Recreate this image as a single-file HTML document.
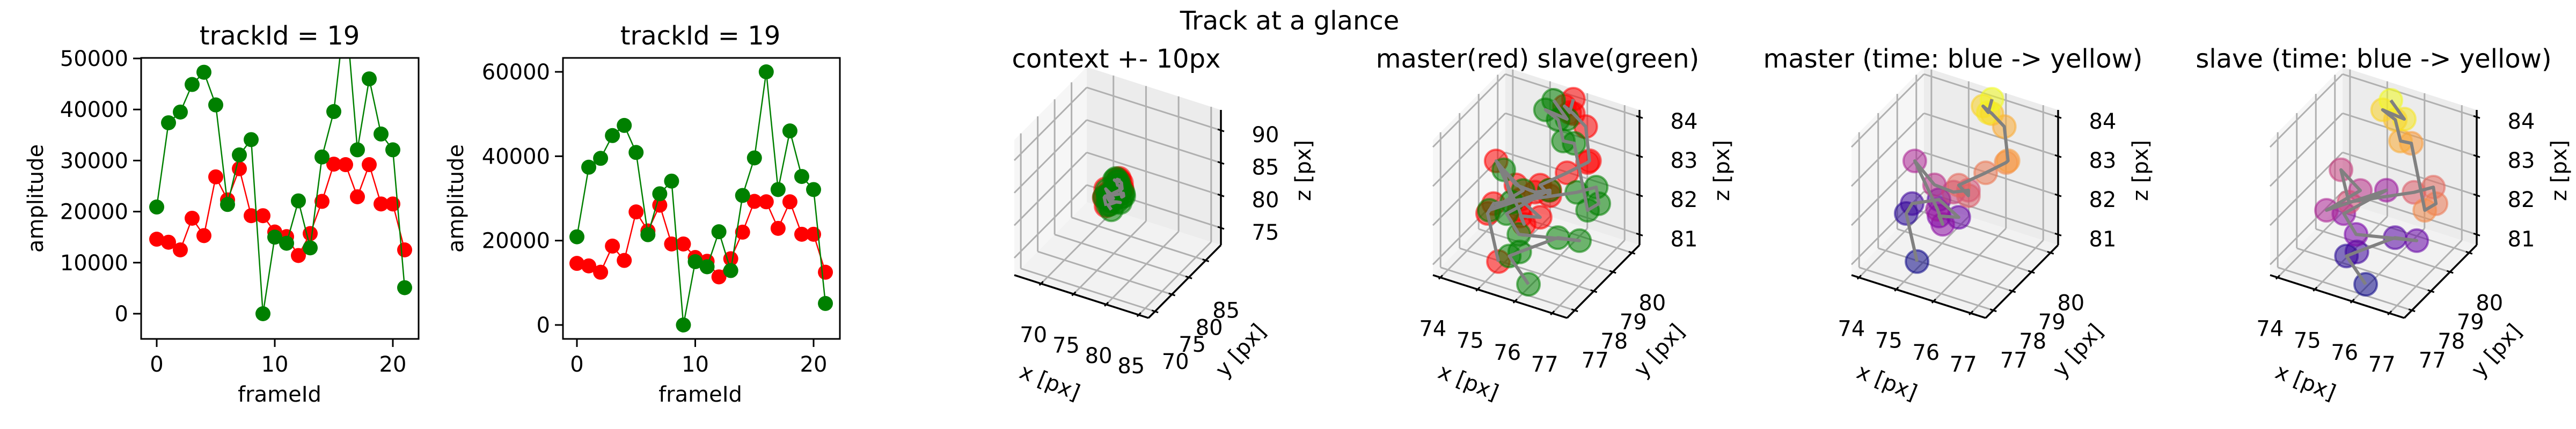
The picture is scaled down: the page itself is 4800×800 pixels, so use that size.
<!DOCTYPE html>
<html><head><meta charset="utf-8"><style>
html,body{margin:0;padding:0;background:#fff;}
svg{display:block;font-family:"DejaVu Sans","Liberation Sans",sans-serif;}
</style></head><body>
<svg id="fig" width="4800" height="800" viewBox="0 0 4800 800" xmlns="http://www.w3.org/2000/svg">
<rect width="4800" height="800" fill="#fff"/>
<text x="2403" y="55" font-size="48" text-anchor="middle">Track at a glance</text>
<g id="g2d"></g>
<g id="g3d"></g>
</svg>
<script>
// ---- 2D amplitude data ----
const frames = [0,1,2,3,4,5,6,7,8,9,10,11,12,13,14,15,16,17,18,19,20,21];
const slaveAmp = [20900,37400,39500,44900,47300,40900,21400,31100,34100,0,15000,13800,22100,12900,30700,39600,60000,32100,46000,35200,32100,5100];
const masterAmp = [14600,14000,12500,18700,15300,26800,22300,28400,19200,19200,16000,15100,11400,15700,22000,29300,29200,22900,29200,21500,21500,12500];
const xTicks2d = [0,10,20];
const yTicksA = [0,10000,20000,30000,40000,50000];
const yTicksB = [0,20000,40000,60000];

// ---- 3D positions (x,y,z in px) ----
const masterX = [75.17,74.49,74.65,75.37,75.90,75.37,75.47,75.33,74.72,75.25,75.76,76.16,76.16,75.90,76.04,76.59,76.64,76.15,75.82,75.58,75.72,75.82];
const masterY = [77.36,78.12,78.12,78.12,78.12,78.12,78.12,78.12,78.12,78.12,78.12,78.12,78.12,78.12,79.26,79.26,79.26,80.02,80.02,80.02,80.02,80.02];
const masterZ = [81.12,81.77,82.07,82.39,82.10,81.97,81.79,82.13,83.18,82.73,82.70,82.87,82.73,82.92,82.72,83.15,83.21,83.56,83.79,83.91,83.79,84.16];
const slaveX = [76.17,75.46,75.74,76.57,77.15,75.33,75.00,75.95,74.73,75.25,74.73,74.94,76.30,76.82,76.89,76.59,75.84,75.55,75.41,75.07,75.65,75.29];
const slaveY = [76.98,77.36,77.36,77.74,77.74,78.12,78.12,78.50,77.74,78.50,78.50,78.50,79.26,79.26,79.26,79.26,80.02,80.02,80.02,80.02,80.02,80.02];
const slaveZ = [81.03,81.35,81.54,81.97,82.07,81.49,81.92,82.62,82.11,82.40,82.77,82.01,82.30,82.59,82.19,81.93,83.04,83.01,83.51,83.66,83.60,83.97];
const ctxXTicks = [70,75,80,85], ctxYTicks = [70,75,80,85], ctxZTicks = [75,80,85,90];
const zmXTicks = [74,75,76,77], zmYTicks = [77,78,79,80], zmZTicks = [81,82,83,84];

const NS = "http://www.w3.org/2000/svg";
function mk(tag, attrs, parent){ const e=document.createElementNS(NS,tag); for(const k in attrs) e.setAttribute(k,attrs[k]); parent.appendChild(e); return e; }

// ===== 2D panels =====
const g2 = document.getElementById('g2d');
const panels2d = [
  {L:263,R:780,T:108,B:632, x0:292, xs:22, y0:585, ys:95.2/10000, ticks:yTicksA, tx:521, lx:67, name:'amplitude-chart-1'},
  {L:1049,R:1565,T:108,B:632, x0:1075, xs:22.05, y0:606, ys:472/60000, ticks:yTicksB, tx:1305, lx:850, name:'amplitude-chart-2'}
];
panels2d.forEach((p,pi)=>{
  const g = mk('g',{},g2);
  
  
  const sx = v=>p.x0+p.xs*v, sy = v=>p.y0-p.ys*v;
  const cid='clip'+pi;
  const cp = mk('clipPath',{id:cid},g); mk('rect',{x:p.L,y:p.T,width:p.R-p.L,height:p.B-p.T},cp);
  const data = mk('g',{'clip-path':'url(#'+cid+')'},g);
  [[masterAmp,'#ff0000','master'],[slaveAmp,'#008000','slave']].forEach(([arr,col,nm])=>{
    const pl = mk('polyline',{points:arr.map((v,i)=>sx(frames[i])+','+sy(v)).join(' '),fill:'none',stroke:col,'stroke-width':2.5},data);
    
    
    arr.forEach((v,i)=>{
      const c = mk('circle',{cx:sx(frames[i]),cy:sy(v),r:14,fill:col},data);
      
      
    });
  });
  mk('rect',{x:p.L,y:p.T,width:p.R-p.L,height:p.B-p.T,fill:'none',stroke:'#000','stroke-width':3},g);
  xTicks2d.forEach(t=>{
    mk('line',{x1:sx(t),x2:sx(t),y1:p.B,y2:p.B+15,stroke:'#000','stroke-width':3},g);
    const tx = mk('text',{x:sx(t),y:693,'font-size':40,'text-anchor':'middle'},g); tx.textContent=t;
    
    
  });
  p.ticks.forEach(t=>{
    mk('line',{x1:p.L-15,x2:p.L,y1:sy(t),y2:sy(t),stroke:'#000','stroke-width':3},g);
    const tx = mk('text',{x:p.L-24,y:sy(t)+14,'font-size':40,'text-anchor':'end'},g); tx.textContent=t;
    
    
  });
  const ti = mk('text',{x:p.tx,y:83,'font-size':48,'text-anchor':'middle'},g); ti.textContent='trackId = 19';
  
  
  const xl = mk('text',{x:p.tx,y:749,'font-size':40,'text-anchor':'middle'},g); xl.textContent='frameId';
  
  
  const yl = mk('text',{x:p.lx,y:370,'font-size':40,'text-anchor':'middle',transform:'rotate(-90 '+p.lx+' 370)','dominant-baseline':'central'},g); yl.textContent='amplitude';
  
  
});

// ===== 3D panels =====
const g3 = document.getElementById('g3d');
const plasmaStops = ['#0d0887','#4c02a1','#7e03a8','#a92395','#cc4778','#e56b5d','#f89540','#fdc527','#f0f921'];
function hex(h){return [parseInt(h.substr(1,2),16),parseInt(h.substr(3,2),16),parseInt(h.substr(5,2),16)];}
function plasma(t){
  const s=t*(plasmaStops.length-1); const i=Math.min(Math.floor(s),plasmaStops.length-2); const f=s-i;
  const a=hex(plasmaStops[i]), b=hex(plasmaStops[i+1]);
  return 'rgb('+a.map((v,k)=>Math.round(v+(b[k]-v)*f)).join(',')+')';
}
const panels3d = [
  {title:'context +- 10px', tx:2080, xr:[65.9,86.5], yr:[68.07,89.5], zr:[72.36,93.14], xt:ctxXTicks, yt:ctxYTicks, zt:ctxZTicks, mode:'rg', name:'context-3d'},
  {title:'master(red) slave(green)', tx:2865, xr:[73.8,77.4], yr:[76.6,80.4], zr:[80.73,84.18], xt:zmXTicks, yt:zmYTicks, zt:zmZTicks, mode:'rg', name:'master-slave-3d'},
  {title:'master (time: blue -> yellow)', tx:3639, xr:[73.8,77.4], yr:[76.6,80.4], zr:[80.73,84.18], xt:zmXTicks, yt:zmYTicks, zt:zmZTicks, mode:'m', name:'master-time-3d'},
  {title:'slave (time: blue -> yellow)', tx:4423, xr:[73.8,77.4], yr:[76.6,80.4], zr:[80.73,84.18], xt:zmXTicks, yt:zmYTicks, zt:zmZTicks, mode:'s', name:'slave-time-3d'}
];
panels3d.forEach((p,k)=>{
  const g = mk('g',{},g3);
  
  
  const Ax = 1890+780*k, Ay = 513;
  const P = (u,v,w)=>[Ax+250*u+135*v, Ay+80*u-136*v-252*w];
  const U = x=>(x-p.xr[0])/(p.xr[1]-p.xr[0]), V = y=>(y-p.yr[0])/(p.yr[1]-p.yr[0]), W = z=>(z-p.zr[0])/(p.zr[1]-p.zr[0]);
  const poly = (pts,fill)=>mk('polygon',{points:pts.map(q=>P(...q).join(',')).join(' '),fill:fill},g);
  poly([[0,0,0],[1,0,0],[1,1,0],[0,1,0]],'#f2f2f2');
  poly([[0,0,0],[0,1,0],[0,1,1],[0,0,1]],'#f6f6f6');
  poly([[0,1,0],[1,1,0],[1,1,1],[0,1,1]],'#ececec');
  const ln = (a,b,col,w)=>{const A=P(...a),B=P(...b); return mk('line',{x1:A[0],y1:A[1],x2:B[0],y2:B[1],stroke:col,'stroke-width':w},g);};
  const gc='#b0b0b0';
  p.xt.forEach(t=>{const u=U(t); ln([u,0,0],[u,1,0],gc,3); ln([u,1,0],[u,1,1],gc,3);});
  p.yt.forEach(t=>{const v=V(t); ln([0,v,0],[1,v,0],gc,3); ln([0,v,0],[0,v,1],gc,3);});
  p.zt.forEach(t=>{const w=W(t); ln([0,0,w],[0,1,w],gc,3); ln([0,1,w],[1,1,w],gc,3);});
  ln([0,0,0],[1,0,0],'#000',3.5); ln([1,0,0],[1,1,0],'#000',3.5); ln([1,1,0],[1,1,1],'#000',3.5);
  const lbl=(x,y,s,nm)=>{const t=mk('text',{x:x,y:y+14,'font-size':40,'text-anchor':'middle'},g); t.textContent=s;
    
     return t;};
  p.xt.forEach(t=>{const q=P(U(t),0,0); mk('line',{x1:q[0]-3,y1:q[1]+3,x2:q[0]+4,y2:q[1]-4,stroke:'#000','stroke-width':3},g); lbl(q[0]-14,q[1]+95,t,'x-tick-label');});
  p.yt.forEach(t=>{const q=P(1,V(t),0); mk('line',{x1:q[0]-6,y1:q[1]-2,x2:q[0]+6,y2:q[1]+2,stroke:'#000','stroke-width':3},g); lbl(q[0]+38,q[1]+93,t,'y-tick-label');});
  p.zt.forEach(t=>{const q=P(1,1,W(t)); mk('line',{x1:q[0]-6,y1:q[1]-2,x2:q[0]+6,y2:q[1]+2,stroke:'#000','stroke-width':3},g); lbl(q[0]+83,q[1]+8,t,'z-tick-label');});
  const ax=(x,y,rot,s,nm)=>{const t=mk('text',{x:x,y:y,'font-size':40,'text-anchor':'middle','dominant-baseline':'central',transform:'rotate('+rot+' '+x+' '+y+')'},g); t.textContent=s;
    
    };
  ax(Ax+66,713,22,'x [px]','x-axis-title');
  ax(Ax+422,654,-48,'y [px]','y-axis-title');
  ax(Ax+539,318,-90,'z [px]','z-axis-title');
  const ti=mk('text',{x:p.tx,y:126,'font-size':48,'text-anchor':'middle'},g); ti.textContent=p.title;
  
  
  const series = [];
  if(p.mode==='rg'){ series.push([masterX,masterY,masterZ,()=>'#ff0000','master']); series.push([slaveX,slaveY,slaveZ,()=>'#008000','slave']); }
  if(p.mode==='m') series.push([masterX,masterY,masterZ,i=>plasma(i/21),'master']);
  if(p.mode==='s') series.push([slaveX,slaveY,slaveZ,i=>plasma(i/21),'slave']);
  series.forEach(([X,Y,Z,col,nm])=>{
    X.forEach((x,i)=>{
      const q=P(U(x),V(Y[i]),W(Z[i]));
      const c=mk('circle',{cx:q[0],cy:q[1],r:21,fill:col(i),'fill-opacity':0.55,stroke:col(i),'stroke-opacity':0.55,'stroke-width':4},g);
      
      
    });
  });
  series.forEach(([X,Y,Z,col,nm])=>{
    const pts = X.map((x,i)=>P(U(x),V(Y[i]),W(Z[i])).join(',')).join(' ');
    const pl=mk('polyline',{points:pts,fill:'none',stroke:'#808080','stroke-width':6,'stroke-linejoin':'round'},g);
    
    
  });
});
</script>
</body></html>
